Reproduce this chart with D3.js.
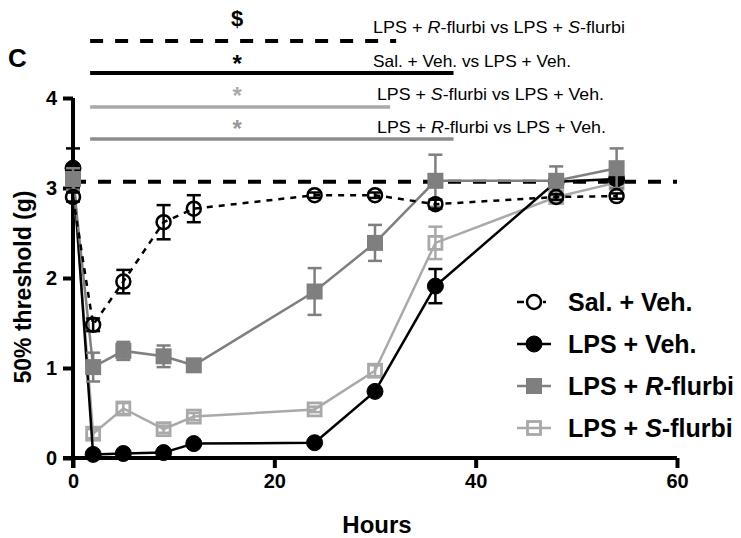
<!DOCTYPE html>
<html>
<head>
<meta charset="utf-8">
<script src="https://cdn.jsdelivr.net/npm/d3@7"></script>
<style>
  html, body { margin: 0; padding: 0; background: #fff; }
  svg { display: block; font-family: "Liberation Sans", Arial, Helvetica, sans-serif; }
</style>
</head>
<body>
<svg id="chart" width="741" height="538"></svg>
<script>
// ---------------- DATA ----------------
const hours = [0, 2, 5, 9, 12, 24, 30, 36, 48, 54];

const salVeh      = [2.90, 1.48, 1.96, 2.62, 2.77, 2.92, 2.92, 2.82, 2.90, 2.91];
const salVehErr   = [0.05, 0.07, 0.13, 0.19, 0.15, 0.03, 0.03, 0.05, 0.03, 0.03];

const lpsVeh      = [3.22, 0.04, 0.05, 0.06, 0.16, 0.17, 0.74, 1.91, 3.07, 3.10];
const lpsVehErr   = [0.22, 0.02, 0.02, 0.02, 0.03, 0.03, 0.03, 0.19, 0.05, 0.05];

const lpsR        = [3.10, 1.01, 1.19, 1.13, 1.03, 1.85, 2.39, 3.08, 3.08, 3.22];
const lpsRErr     = [0.12, 0.16, 0.10, 0.12, 0.06, 0.26, 0.20, 0.29, 0.16, 0.22];

const lpsS        = [3.10, 0.27, 0.55, 0.32, 0.46, 0.54, 0.97, 2.39, 2.90, 3.06];
const lpsSErr     = [0.10, 0.05, 0.06, 0.04, 0.04, 0.03, 0.06, 0.18, 0.05, 0.08];

const baselineValue = 3.07;

const xTicks = [0, 20, 40, 60];
const yTicks = [0, 1, 2, 3, 4];

// significance bars: [start hour, end hour]
const sigLabels  = ["$", "*", "*", "*"];
const sigTexts   = [
  ["LPS + ", "R", "-flurbi vs LPS + ", "S", "-flurbi"],
  ["Sal. + Veh. vs LPS + Veh."],
  ["LPS + ", "S", "-flurbi vs LPS + Veh."],
  ["LPS + ", "R", "-flurbi vs LPS + Veh."]
];
const sigStart   = [1.7, 1.7, 1.7, 1.7];
const sigEnd     = [32.1, 37.8, 31.5, 37.8];
const sigMarkX   = 16.3;

const legendLabels = [
  ["Sal. + Veh."],
  ["LPS + Veh."],
  ["LPS + ", "R", "-flurbi"],
  ["LPS + ", "S", "-flurbi"]
];

// ---------------- LAYOUT ----------------
const svg = d3.select("#chart");
const x = d3.scaleLinear().domain([0, 60]).range([73, 677]);
const y = d3.scaleLinear().domain([0, 4]).range([458, 98]);

const cBlack = "#000000", cR = "#7f7f7f", cS = "#a9a9a9";

// helper for mixed italic text
function richText(sel, parts) {
  parts.forEach((p, i) => {
    sel.append("tspan").text(p).attr("font-style", (parts.length > 1 && i % 2 === 1) ? "italic" : null);
  });
}

// ---------------- AXES ----------------
const xAxis = d3.axisBottom(x).tickValues(xTicks).tickFormat(d3.format("d")).tickSize(10).tickPadding(6).tickSizeOuter(0);
const yAxis = d3.axisLeft(y).tickValues(yTicks).tickFormat(d3.format("d")).tickSize(10).tickPadding(6).tickSizeOuter(0);

const gx = svg.append("g").attr("transform", `translate(0,${y(0)})`).call(xAxis);
const gy = svg.append("g").attr("transform", `translate(${x(0)},0)`).call(yAxis);

[gx, gy].forEach(g => {
  g.select(".domain").attr("stroke", "#000").attr("stroke-width", 4);
  g.selectAll(".tick line").attr("stroke", "#000").attr("stroke-width", 4);
  g.selectAll(".tick text").attr("fill", "#000").attr("font-size", 20).attr("font-weight", "bold")
    .attr("font-family", "'Liberation Sans', Arial, sans-serif");
});
gx.select(".domain").attr("d", `M${x(0) - 10},0H${x(60)}`);
gy.select(".domain").attr("d", `M0,${y(4)}V${y(0) + 10}`);

svg.append("text")
  .attr("x", x(30) + 2).attr("y", 533)
  .attr("text-anchor", "middle")
  .attr("font-size", 24).attr("font-weight", "bold")
  .text("Hours");

svg.append("text")
  .attr("transform", `translate(31,${y(1.9)}) rotate(-90)`)
  .attr("text-anchor", "middle")
  .attr("font-size", 23).attr("font-weight", "bold")
  .text("50% threshold (g)");

// panel letter
svg.append("text").attr("x", 8).attr("y", 67)
  .attr("font-size", 26).attr("font-weight", "bold").text("C");

// ---------------- SIGNIFICANCE BARS ----------------
const sigY      = [41, 73, 107, 139];
const sigMarkBase = [26, 72, 104, 137];
const sigTextY  = [33, 67, 100, 133];
const sigTextX  = [373, 373, 377, 377];
const sigTextW  = [252, 198, 227, 229];
const sigColor  = [cBlack, cBlack, cS, "#8c8c8c"];
const sigLineW  = [4, 4, 3.5, 3.5];
const sigMarkColor = [cBlack, cBlack, cS, "#999999"];

sigLabels.forEach((lab, i) => {
  svg.append("line")
    .attr("x1", x(sigStart[i])).attr("x2", x(sigEnd[i]))
    .attr("y1", sigY[i]).attr("y2", sigY[i])
    .attr("stroke", sigColor[i]).attr("stroke-width", sigLineW[i])
    .attr("stroke-dasharray", i === 0 ? "13,12" : null);
  svg.append("text")
    .attr("x", x(sigMarkX)).attr("y", sigMarkBase[i])
    .attr("text-anchor", "middle")
    .attr("font-size", i === 0 ? 22 : 24).attr("font-weight", "bold")
    .attr("fill", sigMarkColor[i])
    .text(lab);
  const t = svg.append("text")
    .attr("x", sigTextX[i]).attr("y", sigTextY[i])
    .attr("font-size", 16.5)
    .attr("fill", "#000")
    .attr("textLength", sigTextW[i]).attr("lengthAdjust", "spacingAndGlyphs");
  richText(t, sigTexts[i]);
});

// ---------------- BASELINE ----------------
svg.append("line")
  .attr("x1", x(0)).attr("x2", x(60))
  .attr("y1", y(baselineValue)).attr("y2", y(baselineValue))
  .attr("stroke", "#000").attr("stroke-width", 4)
  .attr("stroke-dasharray", "13,12");

// ---------------- SERIES ----------------
const series = [
  { name: "S",   vals: lpsS,   err: lpsSErr,   color: cS,     shape: "square", fill: "none", dash: null,  lw: 2.5 },
  { name: "veh", vals: lpsVeh, err: lpsVehErr, color: cBlack, shape: "circle", fill: cBlack, dash: null,  lw: 2.5 },
  { name: "R",   vals: lpsR,   err: lpsRErr,   color: cR,     shape: "square", fill: cR,     dash: null,  lw: 2.5 },
  { name: "sal", vals: salVeh, err: salVehErr, color: cBlack, shape: "circle", fill: "none", dash: "6,6", lw: 2.5 }
];

const line = d3.line().x(d => x(d[0])).y(d => y(d[1]));

function drawMarker(g, shape, cx, cy, color, fill, size) {
  if (shape === "circle") {
    g.append("circle").attr("cx", cx).attr("cy", cy).attr("r", size / 2 - (fill === "none" ? 1 : 0))
      .attr("fill", fill).attr("stroke", color).attr("stroke-width", fill === "none" ? 2.5 : 1);
  } else {
    const s = fill === "none" ? size - 3 : size;
    g.append("rect").attr("x", cx - s / 2).attr("y", cy - s / 2).attr("width", s).attr("height", s)
      .attr("fill", fill).attr("stroke", color).attr("stroke-width", fill === "none" ? 2.8 : 0);
  }
}

series.forEach(s => {
  const g = svg.append("g");
  const pts = hours.map((h, i) => [h, s.vals[i]]);
  g.append("path").attr("d", line(pts)).attr("fill", "none")
    .attr("stroke", s.color).attr("stroke-width", s.lw)
    .attr("stroke-dasharray", s.dash);
  hours.forEach((h, i) => {
    const cx = x(h), top = y(s.vals[i] + s.err[i]), bot = y(s.vals[i] - s.err[i]);
    g.append("line").attr("x1", cx).attr("x2", cx).attr("y1", top).attr("y2", bot)
      .attr("stroke", s.color).attr("stroke-width", 2.5);
    [top, bot].forEach(yy => g.append("line").attr("x1", cx - 7).attr("x2", cx + 7)
      .attr("y1", yy).attr("y2", yy).attr("stroke", s.color).attr("stroke-width", 2.5));
  });
  hours.forEach((h, i) => drawMarker(g, s.shape, x(h), y(s.vals[i]), s.color, s.fill, 16));
});

// ---------------- LEGEND ----------------
const legOrder = [3, 1, 2, 0];
const legY = [302, 344, 386, 428];
legOrder.forEach((si, k) => {
  const s = series[si];
  const g = svg.append("g");
  g.append("line").attr("x1", 517).attr("x2", 551).attr("y1", legY[k]).attr("y2", legY[k])
    .attr("stroke", s.color).attr("stroke-width", 2.5)
    .attr("stroke-dasharray", s.dash ? "7,19,3" : null);
  drawMarker(g, s.shape, 534, legY[k], s.color, s.fill, 16);
  const t = g.append("text").attr("x", 568).attr("y", legY[k] + 9)
    .attr("font-size", 25).attr("font-weight", "bold").attr("fill", "#000");
  richText(t, legendLabels[k]);
});
</script>
</body>
</html>
